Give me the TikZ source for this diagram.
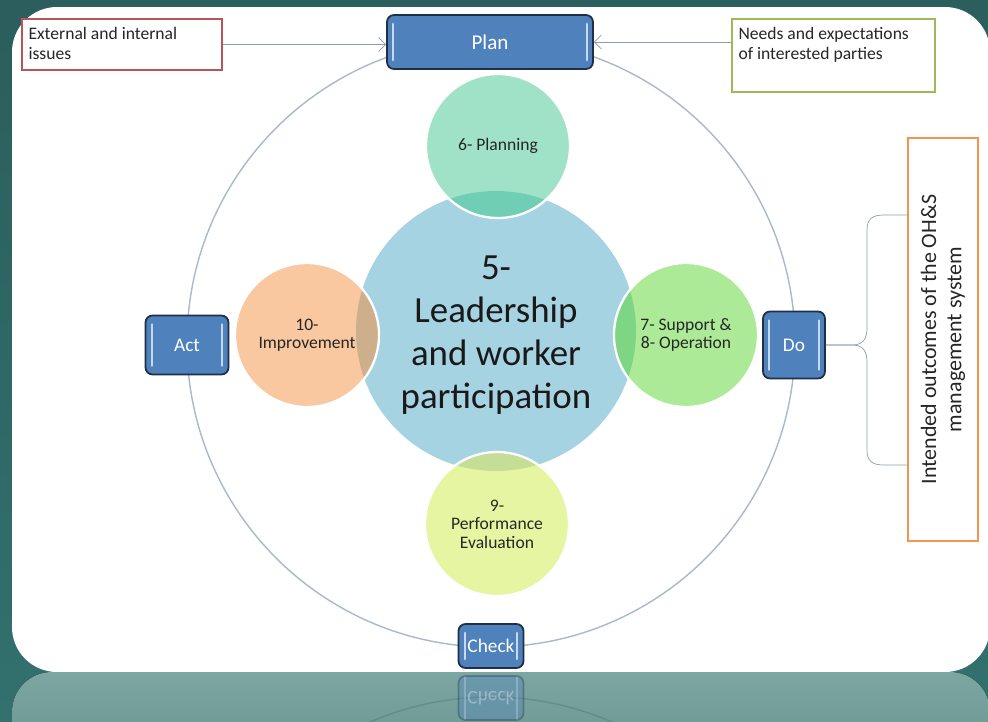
\documentclass[tikz,border=0pt]{standalone}
\usepackage{fontspec}
\setmainfont{Carlito}
\usepackage{tikz}
\usetikzlibrary{arrows,arrows.meta,positioning,shapes.geometric,calc}
\pgfdeclarelayer{background}
\pgfsetlayers{background,main}
\definecolor{slidetop}{RGB}{43,94,93}
\definecolor{slidebottom}{RGB}{50,113,110}
\definecolor{echotop}{RGB}{124,166,161}
\definecolor{echobottom}{RGB}{98,143,139}
\definecolor{pdcablue}{HTML}{4F81BD}
\definecolor{pdcaedge}{HTML}{1F2F45}
\definecolor{pdcashine}{HTML}{C6D9F1}
\definecolor{ringline}{HTML}{A9B9CC}
\definecolor{arrowgray}{HTML}{8E9CAF}
\definecolor{leadblue}{RGB}{166,211,226}
\definecolor{plangreen}{RGB}{160,226,200}
\definecolor{plandark}{RGB}{112,206,180}
\definecolor{dogreen}{RGB}{172,234,152}
\definecolor{dodark}{RGB}{126,214,132}
\definecolor{actpeach}{RGB}{250,200,160}
\definecolor{actdark}{RGB}{206,175,140}
\definecolor{checklime}{RGB}{230,245,162}
\definecolor{checkdark}{RGB}{197,222,150}
\definecolor{issuered}{RGB}{184,84,90}
\definecolor{partygreen}{RGB}{155,187,89}
\definecolor{goalorange}{RGB}{240,150,80}
\tikzstyle{pdca}=[draw=pdcaedge, fill=pdcablue, line width=1pt, rounded corners=4pt,
text=white, inner sep=2pt, font=\fontsize{11}{13}\selectfont,
path picture={
\draw[pdcashine, line width=1.2pt, line cap=round] ([shift={(3.5pt,-5pt)}]path picture bounding box.north west) -- ([shift={(3.5pt,5pt)}]path picture bounding box.south west);
\draw[pdcashine, line width=1.2pt, line cap=round] ([shift={(-3.5pt,-5pt)}]path picture bounding box.north east) -- ([shift={(-3.5pt,5pt)}]path picture bounding box.south east);}]
\tikzstyle{clause}=[circle, minimum size=2.88cm, inner sep=0pt, align=center,
text=black!85, font=\fontsize{10}{10.5}\selectfont]
\tikzstyle{core}=[align=center, inner sep=0pt, text=black!90, font=\fontsize{21}{24.5}\selectfont]
\tikzstyle{inbox}=[draw, fill=white, line width=1pt, inner sep=0pt]
\tikzstyle{boxtext}=[align=left, inner xsep=4pt, inner ysep=5pt, text=black!85,
font=\fontsize{10}{11.5}\selectfont]
\tikzstyle{feed}=[draw, thin, color=arrowgray, -{Straight Barb[length=4pt,width=8pt]}]
\tikzstyle{brace}=[draw, thin, color=arrowgray]
\newcommand{\pdca}[3]{node (#1)[pdca,#2]{#3}}
\newcommand{\clausenode}[2]{node (#1)[clause]{#2}}

\begin{document}
\begin{tikzpicture}[x=0.02cm,y=-0.02cm]
	\useasboundingbox (0,0) rectangle (988,721);

	% Slide and its reflection
	\begin{pgfonlayer}{background}
	\fill[top color=slidetop, bottom color=slidebottom] (0,0) rectangle (988,721);
	\fill[white, rounded corners=0.9cm] (12,7) rectangle (990,672);
	\fill[top color=echotop, bottom color=echobottom, rounded corners=0.8cm] (12,672) rectangle (990,790);
	\draw[slidetop, opacity=0.25, line width=0.8pt] (491,1001) circle (304);
	\end{pgfonlayer}

	% Draw diagram elements
	\coordinate (hub) at (491,343);
	\coordinate (leadc) at (496,331);
	\path (496,335.5) node (lead) [core] {5-\\Leadership\\and worker\\participation};
	\path (498,146) \clausenode{c6}{6- Planning};
	\path (686,335) \clausenode{c7}{7- Support \&\\8- Operation};
	\path (307,335) \clausenode{c10}{10-\\Improvement};
	\path (497,524) \clausenode{c9}{9-\\Performance\\Evaluation};

	\path (490,42) \pdca{plan}{minimum width=4.12cm, minimum height=1.08cm, font=\fontsize{12}{14}\selectfont}{Plan};
	\path (187,345) \pdca{act}{minimum width=1.66cm, minimum height=1.18cm}{Act};
	\path (794,345) \pdca{do}{minimum width=1.24cm, minimum height=1.34cm}{Do};
	\path (491,646) \pdca{check}{minimum width=1.3cm, minimum height=0.88cm}{Check};
	\path (491,698) node (checkecho) [pdca, minimum width=1.3cm, minimum height=0.88cm,
		yscale=-1, transform shape, opacity=0.35] {Check};

	\path (122,44.5) node (ext) [inbox, draw=issuered, minimum width=4cm, minimum height=1.02cm] {};
	\node (exttext) [boxtext, anchor=north west] at (ext.north west) {External and internal\\issues};
	\path (833.5,55.5) node (needs) [inbox, draw=partygreen, minimum width=4.06cm, minimum height=1.46cm] {};
	\node (needstext) [boxtext, anchor=north west] at (needs.north west) {Needs and expectations\\of interested parties};
	\path (943,339.5) node (goal) [inbox, draw=goalorange, rotate=90, minimum width=8.06cm,
		minimum height=1.4cm, align=center, text=black!85,
		font=\fontsize{12.5}{14.5}\selectfont] {Intended outcomes of the OH\&S\\management system};

	% Circles behind the texts
	\begin{pgfonlayer}{background}
	\draw[ringline, line width=0.8pt] (hub) circle (304);
	\fill[leadblue] (leadc) circle (140);
	\fill[plangreen] (c6.center) circle (72);
	\fill[dogreen] (c7.center) circle (72);
	\fill[actpeach] (c10.center) circle (72);
	\fill[checklime] (c9.center) circle (72);
	\begin{scope}
		\clip (leadc) circle (140);
		\fill[plandark] (c6.center) circle (72);
		\fill[dodark] (c7.center) circle (72);
		\fill[actdark] (c10.center) circle (72);
		\fill[checkdark] (c9.center) circle (72);
	\end{scope}
	\foreach \c in {c6,c7,c9,c10}
		\draw[white, line width=1.3pt] (\c.center) circle (72);
	\end{pgfonlayer}

	% Draw arrows between elements
	\path [feed] (ext.east) -- (ext.east -| plan.west);
	\path [feed] (needs.west |- plan.east) -- (plan.east);

	% Brace towards the outcomes
	\coordinate (tiptop) at (908,215);
	\coordinate (tipbot) at (908,465);
	\path [brace] (do.east) -- (852,345) .. controls (863,345) and (867,339) .. (867,328)
		-- (867,230) .. controls (867,219) and (872,215) .. (884,215) -- (tiptop);
	\path [brace] (do.east) -- (852,345) .. controls (863,345) and (867,351) .. (867,362)
		-- (867,450) .. controls (867,461) and (872,465) .. (884,465) -- (tipbot);
\end{tikzpicture}
\end{document}
